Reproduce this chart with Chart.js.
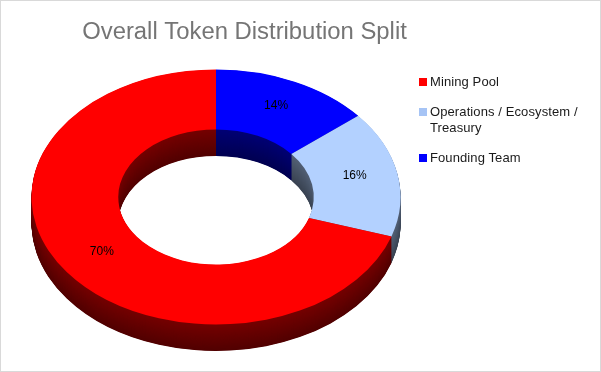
<!DOCTYPE html>
<html>
<head>
<meta charset="utf-8">
<script src="https://cdn.jsdelivr.net/npm/chart.js@4"></script>
<style>
  html, body { margin: 0; padding: 0; background: #fff; }
  #wrap { position: relative; width: 601px; height: 372px; overflow: hidden; }
  #frame { position: absolute; inset: 0; border: 1px solid #d9d9d9; pointer-events: none; }
  .key { position: absolute; left: 430px; width: 165px; font: 13px/16px "Liberation Sans", Arial, sans-serif; letter-spacing: 0.1px; color: #1a1a1a; }
  .key i { position: absolute; left: -11px; top: 4px; width: 8px; height: 8px; }
</style>
</head>
<body>
<div id="wrap">
  <canvas id="chart" width="601" height="372"></canvas>
  <div id="legend"></div>
  <div id="frame"></div>
</div>
<script>
const titleText = 'Overall Token Distribution Split';
const categories = ['Founding Team', 'Operations / Ecosystem / Treasury', 'Mining Pool'];
const shares = [14, 16, 70];
const sliceColors = [[0, 0, 255], [179, 209, 255], [255, 0, 0]];
const legendOrder = [2, 1, 0];
const legendTops = [74, 104, 150];
const legendColors = ['#ff0000', '#a6c4f5', '#0000ff'];

// where the tilted ring ends up on the page
const tilt = { cx: 216, cy: 197, rx: 184.5, ry: 127.5, depth: 26.5, labelLift: 3 };

function rgb(c, f) {
  return 'rgb(' + c.map(v => Math.round(v * f)).join(',') + ')';
}

function applyTilt(ctx, arc) {
  ctx.translate(tilt.cx, tilt.cy);
  ctx.scale(tilt.rx / arc.outerRadius, tilt.ry / arc.outerRadius);
  ctx.translate(-arc.x, -arc.y);
}

const tiltedRing = {
  id: 'tiltedRing',
  beforeDatasetsDraw(chart) {
    const ctx = chart.ctx;
    const arcs = chart.getDatasetMeta(0).data;
    // stack darker copies of the ring under the top face to get the wall
    for (let d = tilt.depth; d > 0; d -= 0.5) {
      const shade = 0.32 + 0.14 * (1 - d / tilt.depth);
      arcs.forEach((arc, i) => {
        const opts = arc.options;
        arc.options = Object.assign({}, opts, { backgroundColor: rgb(sliceColors[i], shade) });
        ctx.save();
        ctx.translate(0, d);
        applyTilt(ctx, arc);
        arc.draw(ctx);
        ctx.restore();
        arc.options = opts;
      });
    }
    ctx.save();
    applyTilt(ctx, arcs[0]);
  },
  afterDatasetsDraw(chart) {
    const ctx = chart.ctx;
    ctx.restore();
    const arcs = chart.getDatasetMeta(0).data;
    ctx.fillStyle = '#000';
    ctx.font = '12px "Liberation Sans", Arial, sans-serif';
    ctx.textAlign = 'center';
    ctx.textBaseline = 'middle';
    arcs.forEach((arc, i) => {
      const p = arc.getCenterPoint();
      const x = tilt.cx + (p.x - arc.x) * tilt.rx / arc.outerRadius;
      const y = tilt.cy + (p.y - arc.y) * tilt.ry / arc.outerRadius - tilt.labelLift;
      ctx.fillText(shares[i] + '%', x, y);
    });
  }
};

new Chart(document.getElementById('chart').getContext('2d'), {
  type: 'doughnut',
  data: {
    labels: categories,
    datasets: [{
      data: shares,
      backgroundColor: sliceColors.map(c => rgb(c, 1)),
      borderWidth: 0,
      clip: false
    }]
  },
  options: {
    responsive: false,
    animation: false,
    cutout: '53%',
    layout: { padding: { right: 112 } },
    plugins: {
      legend: { display: false },
      tooltip: { enabled: false },
      title: {
        display: true,
        text: titleText,
        color: '#757575',
        font: { family: '"Liberation Sans", Arial, sans-serif', size: 23.85, weight: 'normal' },
        padding: { top: 18, bottom: 10 }
      }
    }
  },
  plugins: [tiltedRing]
});

const legend = document.getElementById('legend');
legendOrder.forEach((idx, row) => {
  const key = document.createElement('div');
  key.className = 'key';
  key.style.top = legendTops[row] + 'px';
  key.innerHTML = '<i style="background:' + legendColors[row] + '"></i>' + categories[idx];
  legend.appendChild(key);
});
</script>
</body>
</html>
